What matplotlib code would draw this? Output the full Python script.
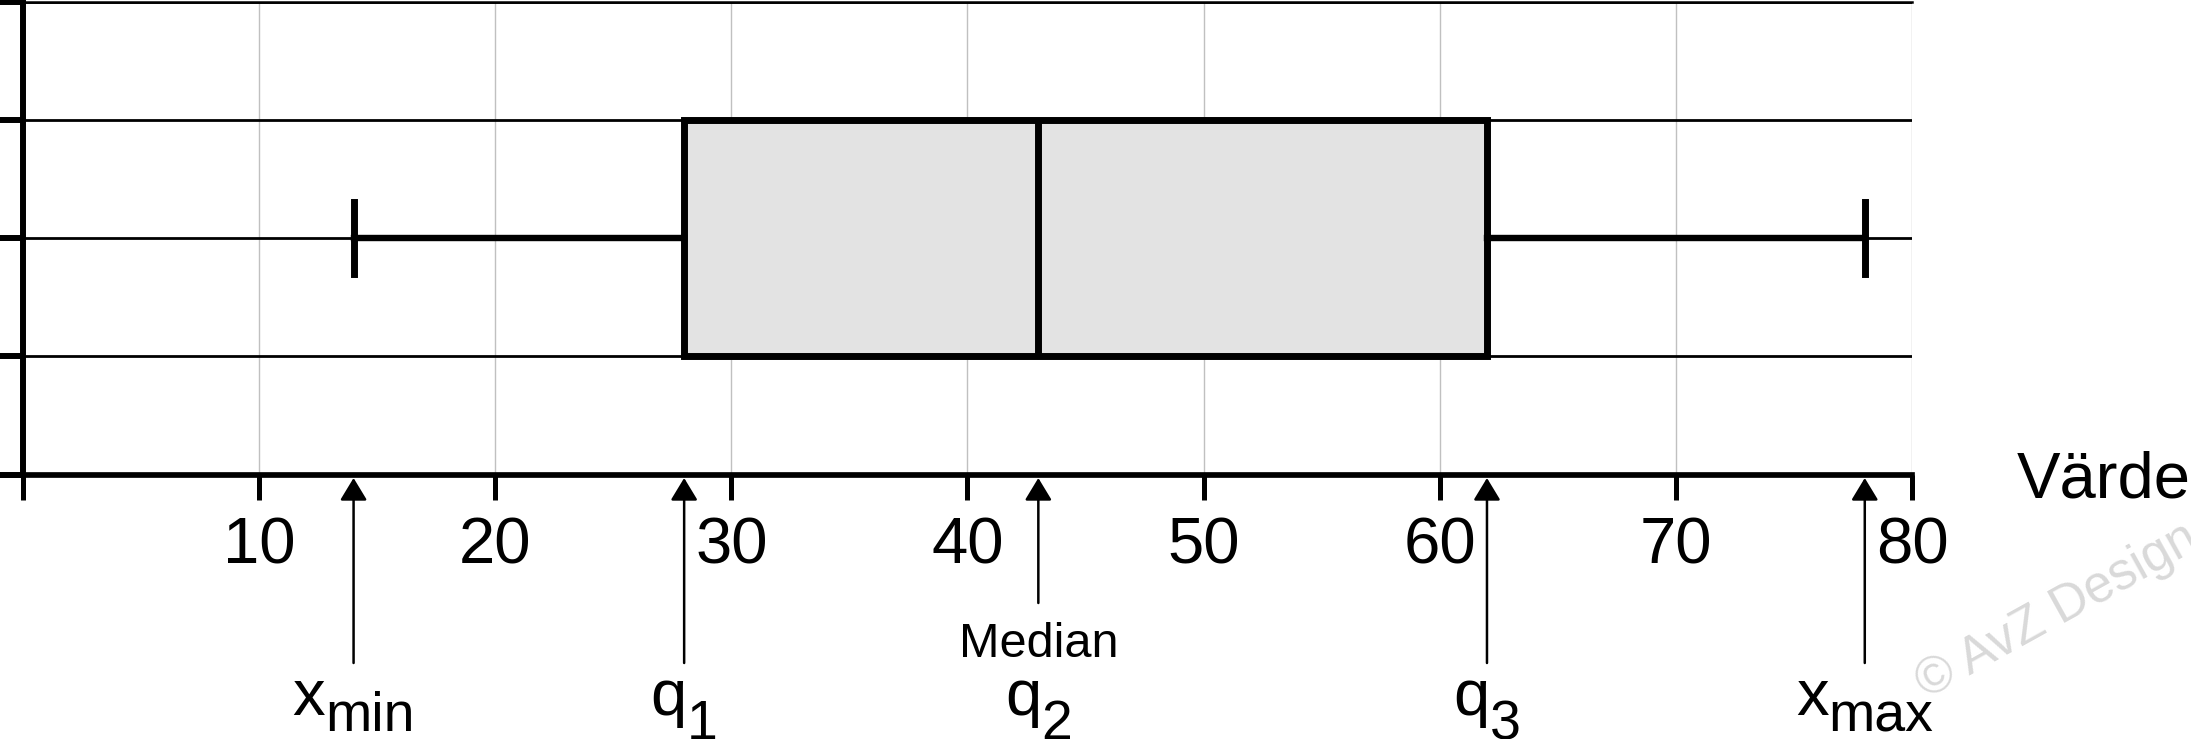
import matplotlib
matplotlib.use("Agg")
import matplotlib.pyplot as plt

# five-number summary
x_min = 14
q1 = 28
median = 43
q3 = 62
x_max = 78

marker_values = [x_min, q1, median, q3, x_max]
marker_main = ["x", "q", "q", "q", "x"]
marker_sub = ["min", "1", "2", "3", "max"]
median_label = "Median"
xticks = [0, 10, 20, 30, 40, 50, 60, 70, 80]
xticklabels = ["", "10", "20", "30", "40", "50", "60", "70", "80"]
yticks = [0, 1, 2, 3, 4]
xlabel = "Värde"
watermark = "© AvZ Design"

plt.rcParams["font.family"] = ["Liberation Sans", "DejaVu Sans"]

W, H = 2191, 739
fig = plt.figure(figsize=(W / 100, H / 100), dpi=100)
ax = fig.add_axes([23 / W, 1 - 474.5 / H, (1912 - 23) / W, (474.5 - 2) / H])

stats = [{"whislo": x_min, "q1": q1, "med": median, "q3": q3, "whishi": x_max, "fliers": []}]
ax.bxp(stats, positions=[2], widths=2, orientation="horizontal", patch_artist=True,
       showfliers=False, capwidths=0.61,
       boxprops=dict(facecolor="#e3e3e3", edgecolor="black", linewidth=5),
       medianprops=dict(color="black", linewidth=5),
       whiskerprops=dict(color="black", linewidth=4.6),
       capprops=dict(color="black", linewidth=5),
       zorder=3)

ax.set_xlim(0, 80)
ax.set_ylim(0, 4)
ax.set_xticks(xticks)
ax.set_xticklabels(xticklabels, fontsize=47)
ax.set_yticks(yticks)
ax.set_yticklabels([])

ax.tick_params(axis="x", direction="out", length=18, width=3.6, pad=12, color="black")
ax.tick_params(axis="y", direction="out", length=17, width=4.3, color="black")

ax.xaxis.grid(True, color="#c0c0c0", linewidth=1.0)
ax.yaxis.grid(True, color="black", linewidth=2.0)
ax.set_axisbelow(True)

ax.spines["left"].set_linewidth(4.3)
ax.spines["bottom"].set_linewidth(4.1)
ax.spines["top"].set_linewidth(1.8)
ax.spines["right"].set_visible(False)
for sp in ax.spines.values():
    sp.set_zorder(5)

ax.set_xlabel(xlabel, fontsize=47, ha="left", va="baseline")
ax.xaxis.set_label_coords((2017 - 23) / (1912 - 23), (474.5 - 497) / 472.5)

# arrows from labels up to the axis
trans = ax.get_xaxis_transform()
axh = 472.5
tip_y = (474.5 - 478) / axh
for i, val in enumerate(marker_values):
    tail = 603 if i == 2 else 663
    ax.annotate("", xy=(val, tip_y), xytext=(val, (474.5 - tail) / axh),
                xycoords=trans, textcoords=trans, annotation_clip=False,
                arrowprops=dict(arrowstyle="-|>,head_length=1.37,head_width=0.83",
                                mutation_scale=10, lw=1.8, color="black",
                                shrinkA=0, shrinkB=0))

ax.annotate(median_label, xy=(median, (474.5 - 657) / axh), xycoords=trans,
            ha="center", va="baseline", fontsize=35, annotation_clip=False)

# labels with big subscripts
base_y = (474.5 - 715) / axh
mains, subs = [], []
for val, m, s in zip(marker_values, marker_main, marker_sub):
    t1 = ax.annotate(m, xy=(val, base_y), xycoords=trans, ha="left", va="baseline",
                     fontsize=47, annotation_clip=False)
    drop = 24 if s.isdigit() else 16
    t2 = ax.annotate(s, xy=(val, base_y), xycoords=trans, xytext=(0, -drop),
                     textcoords="offset pixels", ha="left", va="baseline",
                     fontsize=40, annotation_clip=False)
    mains.append(t1)
    subs.append(t2)

fig.canvas.draw()
r = fig.canvas.get_renderer()
for t1, t2 in zip(mains, subs):
    w1 = t1.get_window_extent(r).width
    w2 = t2.get_window_extent(r).width
    start = -(w1 + w2) / 2
    t1.set_position((start, 0))
    t1.set_anncoords("offset pixels")
    oy = t2.xyann[1]
    t2.set_position((start + w1, oy))

fig.text(2057 / W, 1 - 612 / H, watermark, rotation=29, fontsize=37, color="#d9d9d9",
         ha="center", va="center", rotation_mode="anchor")

fig.savefig("out.png", dpi=100)
